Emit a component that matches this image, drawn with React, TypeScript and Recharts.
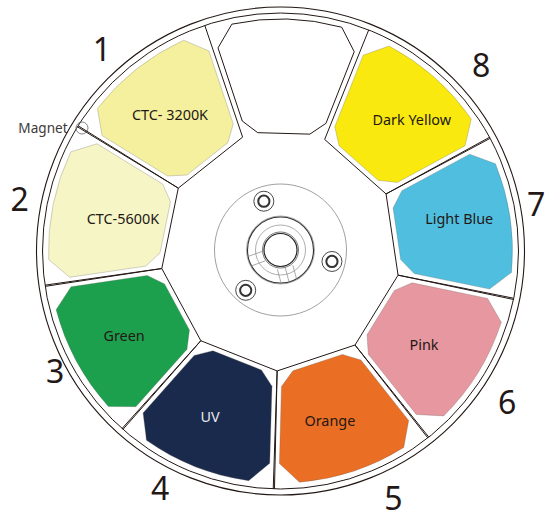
import { Pie, PieChart } from "recharts";

const slotNames = ["CTC- 3200K", "CTC-5600K", "Green", "UV", "Orange", "Pink", "Light Blue", "Dark Yellow", ""];
const slotNumbers = ["1", "2", "3", "4", "5", "6", "7", "8", ""];
const slotValues = [1, 1, 1, 1, 1, 1, 1, 1, 1];
const screwValues = [1, 1, 1];

const slotData = slotNames.map((name, i) => ({ name, number: slotNumbers[i], value: slotValues[i], index: i }));
const screwData = screwValues.map((value) => ({ value }));

const FONT = "'Noto Sans', sans-serif";
const INK = "#231815";
const CX = 280.5;
const CY = 251;

const fills = ["#F5F09E", "#F6F5C6", "#1CA04D", "#1A2A4C", "#EA6E24", "#E6979F", "#50BEDF", "#F9E90F", "none"];
// polar spots (math angle, radius) for the names and the big numbers
const nameSpots = [[128.9, 176], [168.2, 161], [208.5, 178], [246.9, 179.4], [286.2, 177], [326.8, 171.5], [10.2, 181.6], [45.1, 186]];
const numberSpots = [[131.4, 270], [168.7, 266], [207.9, 255], [243, 265], [294.6, 271], [326.4, 272], [10.6, 260], [42.9, 274]];

const at = (angle: number, r: number) => {
  const rad = (angle * Math.PI) / 180;
  return [CX + r * Math.cos(rad), CY - r * Math.sin(rad)];
};
const pt = (angle: number, r: number) => at(angle, r).map((v) => v.toFixed(2)).join(",");

const slotPath = (m: number) =>
  `M${pt(m + 13.7, 232)} A232,232 0 0 1 ${pt(m - 13.7, 232)} L${pt(m - 18.7, 212.5)} L${pt(m - 18, 135.5)} ` +
  `L${pt(m - 12.5, 120.5)} L${pt(m + 12.5, 120.5)} L${pt(m + 18, 135.5)} L${pt(m + 18.7, 212.5)} Z`;

const framePath = (m: number) =>
  `M${pt(m - 19.85, 238)} L${pt(m - 20, 120)} L${pt(m + 20, 120)} L${pt(m + 19.85, 238)}`;

const SlotShape = (props: any) => {
  const { midAngle, payload } = props;
  const i = payload?.index ?? props.index;
  const blank = i === 8;
  const name = slotNames[i];
  const labelPos = blank ? null : at(nameSpots[i][0], nameSpots[i][1]);
  const numPos = blank ? null : at(numberSpots[i][0], numberSpots[i][1]);
  return (
    <g>
      {!blank && <path d={framePath(midAngle)} fill="none" stroke={INK} strokeWidth={1} />}
      <path d={slotPath(midAngle)} fill={fills[i]} stroke={blank ? INK : "#6b665e"} strokeWidth={blank ? 1 : 0.3} />
      {labelPos && (
        <text x={labelPos[0]} y={labelPos[1]} textAnchor="middle" dominantBaseline="central" fontFamily={FONT} fontSize={14.4} fill={i === 3 ? "#E6E8EF" : INK}>
          {name}
        </text>
      )}
      {numPos && (
        <text x={numPos[0]} y={numPos[1]} textAnchor="middle" dominantBaseline="central" fontFamily={FONT} fontSize={32} fill={INK}>
          {slotNumbers[i]}
        </text>
      )}
    </g>
  );
};

const ScrewShape = (props: any) => {
  const [x, y] = at(props.midAngle, 52.5);
  return (
    <g fill="none" stroke="#333">
      <circle cx={x} cy={y} r={10} strokeWidth={0.9} />
      <circle cx={x} cy={y} r={5.6} strokeWidth={2} />
    </g>
  );
};

const notch = (angle: number, offset: number, key: string) => {
  const rad = (angle * Math.PI) / 180;
  const dx = -Math.sin(rad) * offset;
  const dy = -Math.cos(rad) * offset;
  const [x1, y1] = at(angle, 18);
  const [x2, y2] = at(angle, 33);
  return <line key={key} x1={x1 + dx} y1={y1 - 1 + dy} x2={x2 + dx} y2={y2 - 1 + dy} stroke="#888" strokeWidth={0.7} />;
};

const HubShape = () => (
  <g fill="none">
    <circle cx={CX} cy={CY} r={244} stroke={INK} strokeWidth={1.1} />
    <circle cx={CX} cy={CY} r={238} stroke={INK} strokeWidth={1} />
    <circle cx={CX} cy={CY - 1} r={66} stroke="#777" strokeWidth={0.7} />
    <circle cx={CX} cy={CY - 1} r={34} stroke="#888" strokeWidth={0.7} />
    <circle cx={CX} cy={CY - 1} r={33} stroke="#333" strokeWidth={1.1} />
    <circle cx={CX} cy={CY - 1} r={25} stroke="#999" strokeWidth={0.8} />
    <circle cx={CX} cy={CY - 1} r={18} stroke="#555" strokeWidth={0.8} />
    <circle cx={CX} cy={CY - 1} r={16.5} stroke="#222" strokeWidth={1.2} />
    {[-5, 5].map((o) => notch(200, o, `a${o}`))}
    {[-8, 0, 8].map((o) => notch(285, o, `b${o}`))}
    <circle cx={82} cy={128} r={6} stroke="#666" strokeWidth={0.8} />
    <text x={43} y={127} textAnchor="middle" dominantBaseline="central" fontFamily={FONT} fontSize={13.6} fill="#3E3A39" stroke="none">
      Magnet
    </text>
  </g>
);

export default function App() {
  return (
    <div style={{ position: "absolute", left: 0, top: 0, width: 545, height: 514 }}>
      <PieChart width={545} height={514} margin={{ top: 0, right: 0, bottom: 0, left: 0 }}>
        <Pie
          data={[{ value: 1 }]}
          dataKey="value"
          cx={CX}
          cy={CY}
          outerRadius={244}
          isAnimationActive={false}
          shape={HubShape}
        />
        <Pie
          data={slotData}
          dataKey="value"
          cx={CX}
          cy={CY}
          innerRadius={120}
          outerRadius={238}
          startAngle={108.4}
          endAngle={468.4}
          isAnimationActive={false}
          shape={SlotShape}
        />
        <Pie
          data={screwData}
          dataKey="value"
          cx={CX}
          cy={CY}
          outerRadius={60}
          startAngle={48.5}
          endAngle={408.5}
          isAnimationActive={false}
          shape={ScrewShape}
        />
      </PieChart>
    </div>
  );
}
